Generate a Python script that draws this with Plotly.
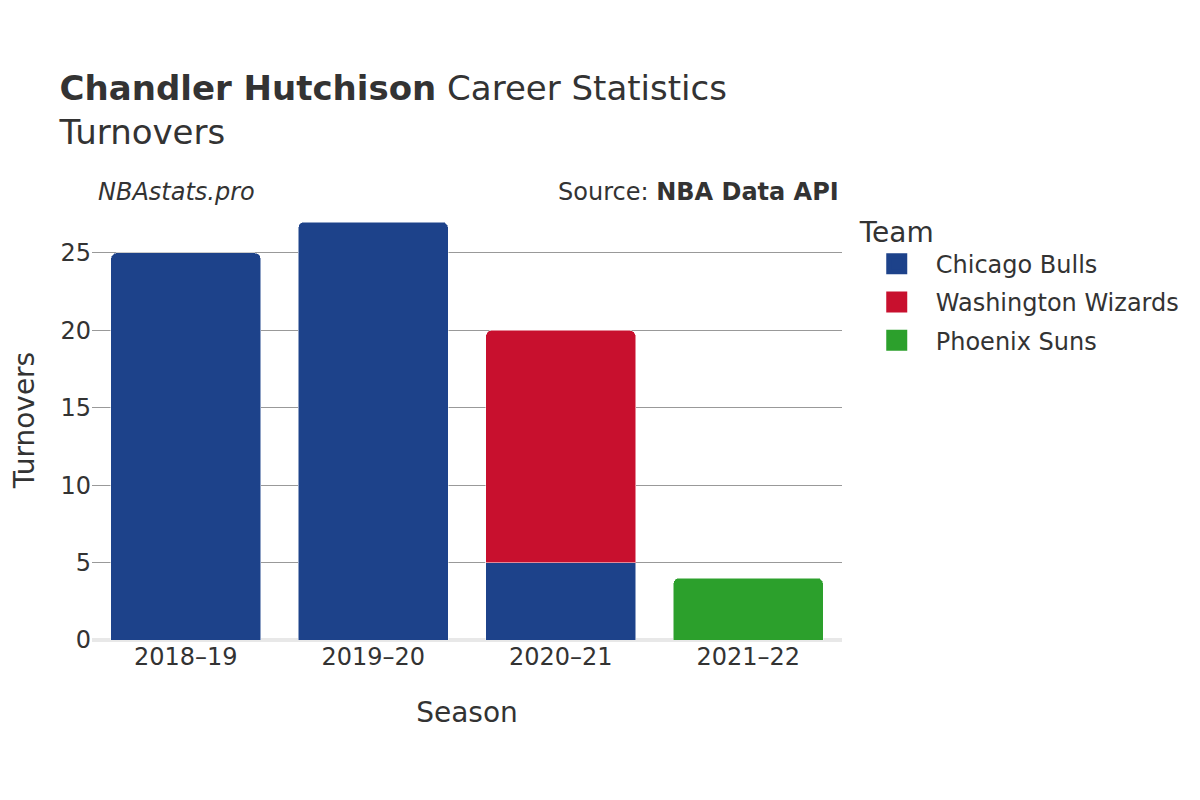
import plotly.graph_objects as go

seasons = ["2018–19", "2019–20", "2020–21", "2021–22"]
teams = ["Chicago Bulls", "Washington Wizards", "Phoenix Suns"]
colors = ["#1d428a", "#c8102e", "#2ca02c"]
chicago = [25, 27, 5, None]
washington = [None, None, 15, None]
phoenix = [None, None, None, 4]

fig = go.Figure()
for name, values, color in zip(teams, (chicago, washington, phoenix), colors):
    fig.add_trace(
        go.Bar(
            x=seasons,
            y=values,
            name=name,
            legendgroup=name,
            showlegend=False,
            marker=dict(color=color, line=dict(color="rgba(255,255,255,0.5)", width=1)),
        )
    )
# legend-only entries, so the key swatches come out as large squares
for name, color in zip(teams, colors):
    fig.add_trace(
        go.Scatter(
            x=[seasons[0]],
            y=[None],
            name=name,
            legendgroup=name,
            mode="markers",
            marker=dict(symbol="square", size=16, color=color, line=dict(color=color, width=5)),
        )
    )

fig.update_layout(
    barmode="stack",
    barcornerradius=6,
    template="plotly_white",
    width=1200,
    height=800,
    font=dict(family="DejaVu Sans", size=24, color="#333333"),
    title=dict(
        text="<b>Chandler Hutchison</b> Career Statistics<br>Turnovers",
        x=0.043,
        xanchor="left",
        y=0.885,
        yanchor="top",
        font=dict(size=34),
    ),
    margin=dict(l=84, r=366, t=192, b=168),
    legend=dict(
        title=dict(text="Team", font=dict(size=28)),
        traceorder="grouped",
        x=1.021,
        y=0.988,
        yanchor="top",
        font=dict(size=24),
        itemwidth=68,
        tracegroupgap=4,
    ),
    bargap=0.2,
)
fig.update_xaxes(
    automargin=False,
    title=dict(text="Season", font=dict(size=28), standoff=32),
)
fig.update_yaxes(
    automargin=False,
    title=dict(text="Turnovers", font=dict(size=28), standoff=36),
    gridcolor="#999999",
    zerolinecolor="#e8e8e8",
    zerolinewidth=4,
    dtick=5,
)
fig.add_annotation(
    text="<i>NBAstats.pro</i>",
    xref="paper",
    yref="paper",
    x=0.005,
    y=1.018,
    xanchor="left",
    yanchor="middle",
    showarrow=False,
    font=dict(size=24),
)
fig.add_annotation(
    text="Source: <b>NBA Data API</b>",
    xref="paper",
    yref="paper",
    x=0.999,
    y=1.018,
    xanchor="right",
    yanchor="middle",
    showarrow=False,
    font=dict(size=24),
)

fig.write_html("out.html")
